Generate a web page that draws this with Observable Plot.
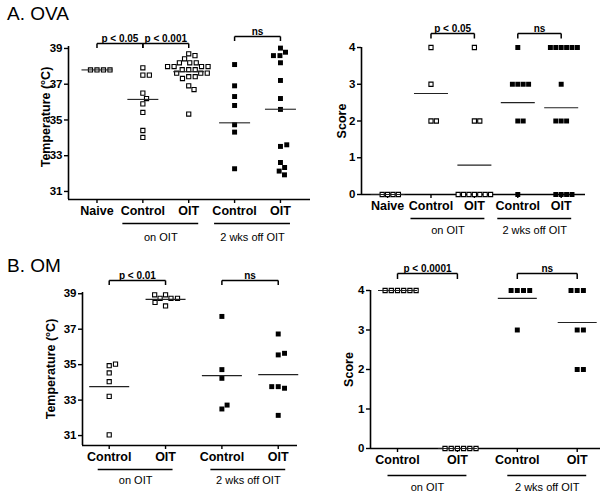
<!DOCTYPE html>
<html>
<head>
<meta charset="utf-8">
<script src="https://cdn.jsdelivr.net/npm/d3@7"></script>
<script src="https://cdn.jsdelivr.net/npm/@observablehq/plot@0.6"></script>
<style>
  body { margin: 0; background: #fff; font-family: "Liberation Sans", Arial, sans-serif; }
  #wrap { position: relative; width: 614px; height: 495px; overflow: hidden; background: #fff; }
  .title { position: absolute; font-size: 19px; line-height: 19px; color: #000; white-space: nowrap; }
</style>
</head>
<body>
<div id="wrap"></div>
<script>
// ---------------- DATA ----------------
const tempTicks = [31, 33, 35, 37, 39];
const scoreTicks = [0, 1, 2, 3, 4];

const ovaCategories = ["Naive", "Control", "OIT", "Control", "OIT"];
const ovaPhases = ["naive", "on", "on", "off", "off"];
const omCategories = ["Control", "OIT", "Control", "OIT"];
const omPhases = ["on", "on", "off", "off"];
const groupLabels = ["on OIT", "2 wks off OIT"];

// A. OVA – temperature (°C)
const ovaTempNaive = [37.8, 37.8, 37.8, 37.8];
const ovaTempOnControl = [37.92, 37.51, 37.51, 36.5, 36.2, 35.9, 35.42, 34.41, 34.02];
const ovaTempOnOIT = [38.7, 38.6, 38.42, 38.2, 38.2, 38.2, 37.99, 37.99, 37.99, 37.99, 37.81, 37.81, 37.81, 37.62, 37.62, 37.62, 37.42, 37.42, 37.32, 36.91, 36.7, 35.33];
const ovaTempOffControl = [38.1, 36.91, 36.31, 35.81, 34.73, 34.32, 32.27];
const ovaTempOffOIT = [39.02, 38.79, 38.6, 38.6, 38.2, 37.21, 36.2, 35.59, 33.52, 33.61, 32.62, 32.34, 32.14, 31.93];
const ovaTempMeans = [37.8, 36.15, 37.7, 34.84, 35.6];
const ovaTempBrackets = [[0, 1, "p < 0.05"], [1, 2, "p < 0.001"], [3, 4, "ns"]];

// A. OVA – score
const ovaScoreNaive = [0, 0, 0, 0];
const ovaScoreOnControl = [4, 3, 2, 2];
const ovaScoreOnOIT = [4, 2, 2, 0, 0, 0, 0, 0, 0, 0];
const ovaScoreOffControl = [4, 3, 3, 3, 3, 2, 2, 0];
const ovaScoreOffOIT = [4, 4, 4, 4, 4, 4, 3, 2, 2, 2, 0, 0, 0, 0];
const ovaScoreMeans = [0, 2.75, 0.8, 2.5, 2.36];
const ovaScoreBrackets = [[1, 2, "p < 0.05"], [3, 4, "ns"]];

// B. OM – temperature (°C)
const omTempOnControl = [34.94, 35.03, 34.53, 34.04, 33.21, 31.04];
const omTempOnOIT = [38.94, 38.74, 38.74, 38.74, 38.94, 38.31, 38.51];
const omTempOffControl = [37.72, 34.72, 34.23, 32.5, 32.72];
const omTempOffOIT = [36.73, 35.55, 35.64, 33.76, 33.67, 33.76, 32.14];
const omTempMeans = [33.76, 38.68, 34.38, 34.44];
const omTempBrackets = [[0, 1, "p < 0.01"], [2, 3, "ns"]];

// B. OM – score
const omScoreOnControl = [4, 4, 4, 4, 4, 4];
const omScoreOnOIT = [0, 0, 0, 0, 0, 0];
const omScoreOffControl = [4, 4, 4, 4, 3];
const omScoreOffOIT = [4, 4, 4, 3, 3, 2, 2];
const omScoreMeans = [4, 0, 3.8, 3.19];
const omScoreBrackets = [[0, 1, "p < 0.0001"], [2, 3, "ns"]];

// ---------------- LAYOUT HELPERS ----------------
const FONT = '"Liberation Sans", Arial, sans-serif';

// simple beeswarm: horizontal pixel offsets so that squares do not pile up
function swarm(values, d, pxY) {
  const placed = [];
  return values.map(v => {
    const yp = v * pxY;
    const iv = [];
    for (const p of placed) {
      const dy = Math.abs(p.y - yp);
      if (dy < d) { const w = Math.sqrt(d * d - dy * dy); iv.push([p.x - w, p.x + w]); }
    }
    const cands = [0];
    iv.forEach(([a, b]) => cands.push(a, b));
    cands.sort((a, b) => Math.abs(a) - Math.abs(b) || b - a);
    const x = cands.find(c => iv.every(([a, b]) => c <= a + 1e-6 || c >= b - 1e-6));
    placed.push({x, y: yp});
    return x;
  });
}

function panel(cfg) {
  const {width, height, mL, mR, mT, mB, xDomain, yDomain, categories, phases} = cfg;
  const pxX = (width - mL - mR) / (xDomain[1] - xDomain[0]);
  const pxY = (height - mT - mB) / (yDomain[1] - yDomain[0]);

  const openPts = [], filledPts = [];
  cfg.values.forEach((vals, i) => {
    const offs = swarm(vals, cfg.spacing, pxY);
    vals.forEach((v, k) => {
      const p = {x: i + offs[k] / pxX, y: v};
      (phases[i] === "off" ? filledPts : openPts).push(p);
    });
  });

  const means = cfg.means.map((m, i) => ({x1: i - cfg.meanHalf / pxX, x2: i + cfg.meanHalf / pxX, y: m}));

  const groups = groupLabels.map((label, g) => {
    const phase = g === 0 ? "on" : "off";
    const idx = phases.map((p, i) => (p === phase ? i : -1)).filter(i => i >= 0);
    const a = idx[0] - cfg.groupPad[0] / pxX;
    const b = idx[idx.length - 1] + cfg.groupPad[1] / pxX;
    return {x1: a, x2: b, xm: (a + b) / 2, y: yDomain[0], label};
  });

  const br = cfg.brackets.map(([a, b, label], k) => {
    const yb = yDomain[1] + cfg.bracketLift[k] / pxY;
    const yl = yb - cfg.legLen / pxY;
    return {a, b, xm: (a + b) / 2, yb, yl, label};
  });

  const svg = Plot.plot({
    width, height,
    marginLeft: mL, marginRight: mR, marginTop: mT, marginBottom: mB,
    x: {type: "linear", domain: xDomain},
    y: {type: "linear", domain: yDomain},
    style: {fontFamily: FONT, color: "#000", background: "transparent", overflow: "visible"},
    marks: [
      // axis lines
      Plot.ruleY([{y: yDomain[0], x1: xDomain[0], x2: xDomain[1]}], {y: "y", x1: "x1", x2: "x2", strokeWidth: 1.6}),
      Plot.ruleX([{x: xDomain[0], y1: yDomain[0], y2: yDomain[1]}], {x: "x", y1: "y1", y2: "y2", strokeWidth: 1.6}),
      Plot.axisY({ticks: cfg.yTicks, tickSize: 4, tickPadding: 2, strokeWidth: 1.4, fontWeight: "bold", fontSize: 11.5, label: null, tickFormat: d => String(d)}),
      Plot.axisX({ticks: d3.range(categories.length), tickSize: 4, tickPadding: 3, strokeWidth: 1.4, fontWeight: "bold", fontSize: 12.5, label: null, tickFormat: i => categories[i]}),
      // y label
      Plot.text([cfg.yLabel], {frameAnchor: "left", textAnchor: "middle", lineAnchor: "middle", dx: -cfg.yLabelDx, dy: cfg.yLabelDy || 0, rotate: -90, text: d => d, fontWeight: "bold", fontSize: 12.5}),
      // points
      Plot.dot(filledPts, {x: "x", y: "y", symbol: "square", r: 2.8, fill: "#000", stroke: "none"}),
      Plot.dot(openPts, {x: "x", y: "y", symbol: "square", r: 2.35, fill: "#fff", stroke: "#000", strokeWidth: 1.1}),
      // mean lines
      Plot.link(means, {x1: "x1", x2: "x2", y1: "y", y2: "y", stroke: "#222", strokeWidth: 1.1}),
      // group lines and labels under the axis
      Plot.ruleY(groups, {x1: "x1", x2: "x2", y: "y", dy: cfg.groupDy, strokeWidth: 1.5}),
      Plot.text(groups, {x: "xm", y: "y", text: "label", dy: cfg.groupTextDy, fontSize: 11}),
      // significance brackets
      Plot.link(br, {x1: "a", x2: "b", y1: "yb", y2: "yb", strokeWidth: 1.5}),
      Plot.link(br, {x1: "a", x2: "a", y1: "yb", y2: "yl", strokeWidth: 1.5}),
      Plot.link(br, {x1: "b", x2: "b", y1: "yb", y2: "yl", strokeWidth: 1.5}),
      Plot.text(br, {x: "xm", y: "yb", text: "label", dy: -2, lineAnchor: "bottom", fontWeight: "bold", fontSize: 10})
    ]
  });
  svg.style.position = "absolute";
  svg.style.left = cfg.left + "px";
  svg.style.top = cfg.top + "px";
  return svg;
}

const wrap = document.getElementById("wrap");

function addTitle(text, left, top) {
  const d = document.createElement("div");
  d.className = "title";
  d.textContent = text;
  d.style.left = left + "px";
  d.style.top = top + "px";
  wrap.appendChild(d);
}

addTitle("A. OVA", 7, 4);
addTitle("B. OM", 7, 256);

// A. OVA – temperature
wrap.appendChild(panel({
  left: 0, top: 20, width: 312, height: 232,
  mL: 68, mR: 2, mT: 26, mB: 53,
  xDomain: [-0.621, 4.655], yDomain: [30.55, 39.11],
  categories: ovaCategories, phases: ovaPhases,
  values: [ovaTempNaive, ovaTempOnControl, ovaTempOnOIT, ovaTempOffControl, ovaTempOffOIT],
  means: ovaTempMeans, brackets: ovaTempBrackets,
  yTicks: tempTicks, yLabel: "Temperature (°C)", yLabelDx: 23, yLabelDy: -6,
  meanHalf: 15.5, groupPad: [20, 10], groupDy: 24, groupTextDy: 38,
  bracketLift: [3, 3, 10], legLen: 4.5, spacing: 6.5
}));

// A. OVA – score
wrap.appendChild(panel({
  left: 312, top: 20, width: 302, height: 232,
  mL: 49, mR: 29, mT: 27, mB: 58,
  xDomain: [-0.601, 4.56], yDomain: [0, 4],
  categories: ovaCategories, phases: ovaPhases,
  values: [ovaScoreNaive, ovaScoreOnControl, ovaScoreOnOIT, ovaScoreOffControl, ovaScoreOffOIT],
  means: ovaScoreMeans, brackets: ovaScoreBrackets,
  yTicks: scoreTicks, yLabel: "Score", yLabelDx: 20,
  meanHalf: 17, groupPad: [20, 10.5], groupDy: 24, groupTextDy: 36,
  bracketLift: [14, 14], legLen: 5, spacing: 5.4
}));

// B. OM – temperature
wrap.appendChild(panel({
  left: 0, top: 262, width: 312, height: 233,
  mL: 82, mR: 15, mT: 30, mB: 50,
  xDomain: [-0.474, 3.342], yDomain: [30.44, 39.07],
  categories: omCategories, phases: omPhases,
  values: [omTempOnControl, omTempOnOIT, omTempOffControl, omTempOffOIT],
  means: omTempMeans, brackets: omTempBrackets,
  yTicks: tempTicks, yLabel: "Temperature (°C)", yLabelDx: 32,
  meanHalf: 20, groupPad: [11, 7.5], groupDy: 24, groupTextDy: 35,
  bracketLift: [12, 12], legLen: 4.5, spacing: 6.5
}));

// B. OM – score
wrap.appendChild(panel({
  left: 312, top: 262, width: 302, height: 233,
  mL: 58, mR: 14, mT: 28, mB: 47,
  xDomain: [-0.451, 3.389], yDomain: [0, 4],
  categories: omCategories, phases: omPhases,
  values: [omScoreOnControl, omScoreOnOIT, omScoreOffControl, omScoreOffOIT],
  means: omScoreMeans, brackets: omScoreBrackets,
  yTicks: scoreTicks, yLabel: "Score", yLabelDx: 22,
  meanHalf: 19.5, groupPad: [9.5, 9.5], groupDy: 27, groupTextDy: 39,
  bracketLift: [17, 17], legLen: 5.5, spacing: 6.2
}));
</script>
</body>
</html>
